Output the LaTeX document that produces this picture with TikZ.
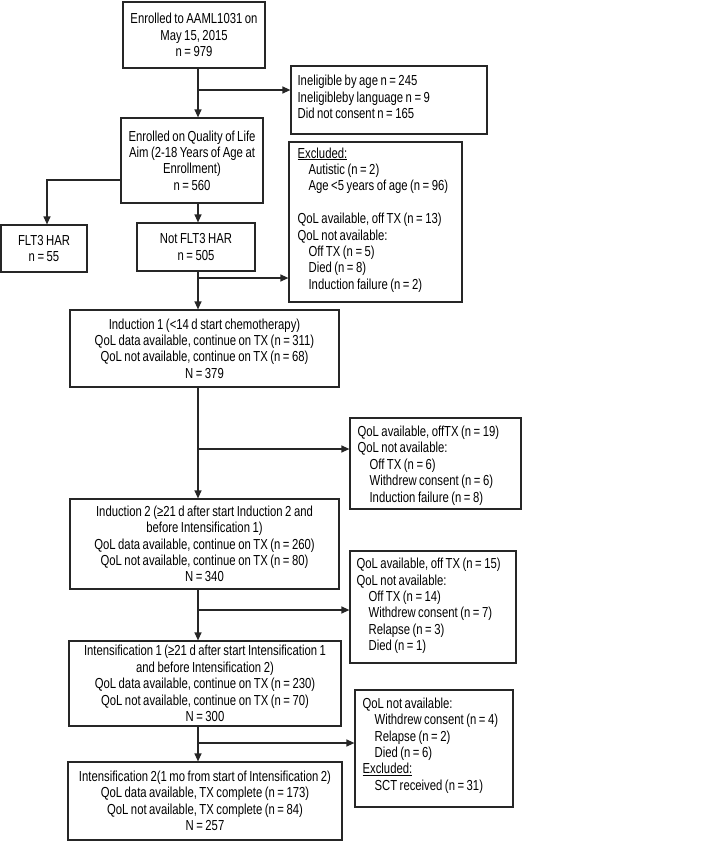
\documentclass[tikz,border=0pt]{standalone}
\usepackage{fontspec}
\setmainfont{Liberation Sans}[FakeStretch=0.78,WordSpace=0.8]
\usetikzlibrary{arrows.meta,calc}
\begin{document}
\begin{tikzpicture}[x=1pt,y=-1pt,
  box/.style={draw=black!85,line width=1.2pt,inner sep=0pt,align=center,
    font=\fontsize{14.5}{16.4}\selectfont},
  frame/.style={draw=black!85,line width=1.2pt,inner sep=0pt},
  ltext/.style={inner sep=0pt,align=left,anchor=west,
    font=\fontsize{14.5}{16.4}\selectfont},
  arr/.style={draw=black!85,line width=1.2pt,-{Triangle[length=8pt,width=7pt]}}]
\useasboundingbox (0,0) rectangle (709,841);
\node[box,minimum width=142,minimum height=66] (b1) at (194,35)
  {Enrolled to AAML1031 on\\May 15, 2015\\n = 979};
\node[frame,minimum width=196,minimum height=68] (inel) at (389,100) {};
\node[ltext] (inelt) at ([xshift=7]inel.west |- 0,97)
  {Ineligible by age n = 245\\Ineligibleby language n = 9\\Did not consent n = 165};
\node[box,minimum width=142,minimum height=85] (b2) at (192,160.5)
  {Enrolled on Quality of Life\\Aim (2-18 Years of Age at\\Enrollment)\\n = 560};
\node[box,minimum width=86,minimum height=47] (flt) at (44,248.5)
  {FLT3 HAR\\n = 55};
\node[box,minimum width=118,minimum height=48] (nflt) at (196,247)
  {Not FLT3 HAR\\n = 505};
\node[frame,minimum width=173,minimum height=160] (exc) at (375.5,222) {};
\node[ltext] (exct) at ([xshift=9]exc.west |- 0,220)
  {\underline{Excluded:}\\
   \hspace*{11pt}Autistic (n = 2)\\
   \hspace*{11pt}Age <5 years of age (n = 96)\\[16.4pt]
   QoL available, off TX (n = 13)\\
   QoL not available:\\
   \hspace*{11pt}Off TX (n = 5)\\
   \hspace*{11pt}Died (n = 8)\\
   \hspace*{11pt}Induction failure (n = 2)};
\node[box,minimum width=269,minimum height=77] (ind1) at (204.5,348.5)
  {Induction 1 (<14 d start chemotherapy)\\QoL data available, continue on TX (n = 311)\\QoL not available, continue on TX (n = 68)\\N = 379};
\node[frame,minimum width=171,minimum height=91] (x19) at (435.5,463.5) {};
\node[ltext] (x19t) at ([xshift=8]x19.west |- 0,465.5)
  {QoL available, offTX (n = 19)\\
   QoL not available:\\
   \hspace*{12pt}Off TX (n = 6)\\
   \hspace*{12pt}Withdrew consent (n = 6)\\
   \hspace*{12pt}Induction failure (n = 8)};
\node[box,minimum width=269,minimum height=90] (ind2) at (204.5,544)
  {Induction 2 (≥21 d after start Induction 2 and\\before Intensification 1)\\QoL data available, continue on TX (n = 260)\\QoL not available, continue on TX (n = 80)\\N = 340};
\node[frame,minimum width=166,minimum height=112] (x15) at (433,607) {};
\node[ltext] (x15t) at ([xshift=7]x15.west |- 0,606)
  {QoL available, off TX (n = 15)\\
   QoL not available:\\
   \hspace*{12pt}Off TX (n = 14)\\
   \hspace*{12pt}Withdrew consent (n = 7)\\
   \hspace*{12pt}Relapse (n = 3)\\
   \hspace*{12pt}Died (n = 1)};
\node[box,minimum width=272,minimum height=85] (int1) at (205,683.5)
  {Intensification 1 (≥21 d after start Intensification 1\\and before Intensification 2)\\QoL data available, continue on TX (n = 230)\\QoL not available, continue on TX (n = 70)\\N = 300};
\node[frame,minimum width=158,minimum height=117] (xl) at (434,748.5) {};
\node[ltext] (xlt) at ([xshift=8]xl.west |- 0,745.5)
  {QoL not available:\\
   \hspace*{12pt}Withdrew consent (n = 4)\\
   \hspace*{12pt}Relapse (n = 2)\\
   \hspace*{12pt}Died (n = 6)\\
   \underline{Excluded:}\\
   \hspace*{12pt}SCT received (n = 31)};
\node[box,minimum width=274,minimum height=78] (int2) at (205,801)
  {Intensification 2(1 mo from start of Intensification 2)\\QoL data available, TX complete (n = 173)\\QoL not available, TX complete (n = 84)\\N = 257};
% spine and branch points
\coordinate (sp) at (198,0);
\coordinate (j1) at (198,90);
\coordinate (j2) at (198,278);
\coordinate (j3) at (198,449);
\coordinate (j4) at (198,610);
\coordinate (j5) at (198,743);
\coordinate (fl) at (0,180);
\coordinate (fx) at (47,0);
\draw[arr] (b1.south -| sp) -- (b2.north -| sp);
\draw[arr] (j1) -- (j1 -| inel.west);
\draw[arr] (b2.west |- fl) -| (flt.north -| fx);
\draw[arr] (b2.south -| sp) -- (nflt.north -| sp);
\draw[arr] (nflt.south -| sp) -- (ind1.north -| sp);
\draw[arr] (j2) -- (j2 -| exc.west);
\draw[arr] (ind1.south -| sp) -- (ind2.north -| sp);
\draw[arr] (j3) -- (j3 -| x19.west);
\draw[arr] (ind2.south -| sp) -- (int1.north -| sp);
\draw[arr] (j4) -- (j4 -| x15.west);
\draw[arr] (int1.south -| sp) -- (int2.north -| sp);
\draw[arr] (j5) -- (j5 -| xl.west);
\end{tikzpicture}
\end{document}
